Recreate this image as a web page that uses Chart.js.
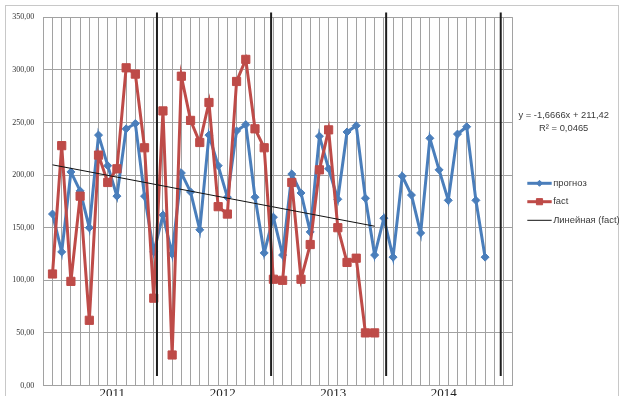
<!DOCTYPE html>
<html>
<head>
<meta charset="utf-8">
<script src="https://cdn.jsdelivr.net/npm/chart.js@4/dist/chart.umd.min.js"></script>
<style>
  html, body { margin: 0; padding: 0; background: #fff; overflow: hidden; }
  #wrap { width: 624px; height: 396px; position: relative; }
</style>
</head>
<body>
<div id="wrap"><canvas id="chart" width="624" height="396"></canvas></div>
<script>
// ---- data ----
const years = ['2011', '2012', '2013', '2014'];

// monthly forecast, Jan 2011 – Dec 2014
const forecast = [
  163, 127, 203, 185, 150, 238, 209, 180, 244, 249, 180, 127,
  162, 125, 202, 184, 148, 238, 209, 179, 242, 248, 179, 126,
  160, 124, 201, 183, 146, 237, 206, 177, 241, 247, 178, 124,
  159, 122, 199, 181, 145, 235, 205, 176, 239, 246, 176, 122
];

// monthly actuals, Jan 2011 – Dec 2013
const fact = [
  106, 228,  99, 180,  62, 219, 193, 206, 302, 296, 226,  83,
  261,  29, 294, 252, 231, 269, 170, 163, 289, 310, 244, 226,
  101, 100, 193, 101, 134, 205, 243, 150, 117, 121,  50,  50
];

// linear trend fitted to the actuals
const trendSlope = -1.6666;
const trendIntercept = 211.42;
const trendR2 = 0.0465;

const yTicks = [0, 50, 100, 150, 200, 250, 300, 350];

// year separators, in category units along the month axis
const yearDividers = [12.35, 24.75, 37.25, 49.7];
const dividerSpan = [9, 354.6];

// ---- category axis: one blank slot before, three after ----
const leadSlots = 1, tailSlots = 3;
const categories = [''];
years.forEach(y => { for (let m = 1; m <= 12; m++) categories.push(String(m).padStart(2, '0') + '.' + y); });
for (let i = 0; i < tailSlots; i++) categories.push('');

const pad = (arr) => {
  const out = new Array(categories.length).fill(null);
  arr.forEach((v, i) => { out[leadSlots + i] = v; });
  return out;
};

// year caption sits under the middle of each year
const yearLabelAt = {};
years.forEach((y, i) => { yearLabelAt[leadSlots + 7 + 12 * i] = y; });

// trend drawn between first and last actual month
const trendData = new Array(categories.length).fill(null);
trendData[leadSlots] = trendIntercept + trendSlope * 1;
trendData[leadSlots + fact.length - 1] = trendIntercept + trendSlope * fact.length;

const fmt = v => v.toFixed(2).replace('.', ',');

const BLUE = '#4A7EBB';
const RED = '#BE4B48';
const GRID = '#a2a2a2';

// ---- plugins ----
const frame = {
  id: 'frame',
  beforeDraw(chart) {
    const ctx = chart.ctx;
    ctx.save();
    ctx.fillStyle = '#fff';
    ctx.fillRect(0, 0, chart.width, chart.height);
    ctx.strokeStyle = '#c8c8c8';
    ctx.lineWidth = 1;
    ctx.strokeRect(5.5, 5.5, 613, 420);
    ctx.restore();
  }
};

const dividers = {
  id: 'dividers',
  afterDatasetsDraw(chart) {
    const { ctx, scales: { x, y } } = chart;
    ctx.save();
    ctx.strokeStyle = '#1e1e1e';
    ctx.lineWidth = 2;
    yearDividers.forEach(pos => {
      const px = x.getPixelForValue(pos);
      ctx.beginPath();
      ctx.moveTo(px, y.getPixelForValue(dividerSpan[1]));
      ctx.lineTo(px, y.getPixelForValue(dividerSpan[0]));
      ctx.stroke();
    });
    ctx.restore();
  }
};

const sideLegend = {
  id: 'sideLegend',
  afterDraw(chart) {
    const ctx = chart.ctx;
    const area = chart.chartArea;
    ctx.save();
    ctx.font = '9.4px "Liberation Sans", Arial, sans-serif';
    ctx.fillStyle = '#3a3a3a';
    ctx.textAlign = 'center';
    ctx.textBaseline = 'middle';
    const cx = area.right + 51;
    ctx.fillText('y = ' + String(trendSlope).replace('.', ',') + 'x + ' + String(trendIntercept).replace('.', ','), cx, 115);
    ctx.fillText('R² = ' + String(trendR2).replace('.', ','), cx, 128);

    const x0 = area.right + 14.6, x1 = area.right + 39;
    const rows = [183.3, 201.7, 220.3];
    ctx.textAlign = 'left';
    chart.data.datasets.forEach((ds, i) => {
      const yy = rows[i];
      ctx.strokeStyle = ds.borderColor;
      ctx.lineWidth = ds.borderWidth;
      ctx.beginPath();
      ctx.moveTo(x0, yy);
      ctx.lineTo(x1, yy);
      ctx.stroke();
      if (ds.pointRadius > 0) {
        ctx.fillStyle = ds.pointBackgroundColor;
        ctx.strokeStyle = ds.pointBorderColor;
        ctx.lineWidth = 1;
        Chart.helpers.drawPoint(ctx, {
          pointStyle: ds.pointStyle, radius: ds.pointRadius * 0.75, borderWidth: 1
        }, (x0 + x1) / 2, yy);
      }
      ctx.fillStyle = '#3a3a3a';
      ctx.fillText(ds.label, x1 + 1.5, yy);
    });
    ctx.restore();
  }
};

new Chart(document.getElementById('chart'), {
  type: 'line',
  data: {
    labels: categories,
    datasets: [
      {
        label: 'прогноз',
        data: pad(forecast),
        borderColor: BLUE,
        backgroundColor: BLUE,
        pointBackgroundColor: BLUE,
        pointBorderColor: BLUE,
        borderWidth: 3,
        pointStyle: 'rectRot',
        pointRadius: 4,
        pointBorderWidth: 1,
        tension: 0,
        order: 2
      },
      {
        label: 'fact',
        data: pad(fact),
        borderColor: RED,
        backgroundColor: RED,
        pointBackgroundColor: RED,
        pointBorderColor: RED,
        borderWidth: 3,
        pointStyle: 'rect',
        pointRadius: 5.8,
        pointBorderWidth: 1,
        tension: 0,
        order: 1
      },
      {
        label: 'Линейная (fact)',
        data: trendData,
        borderColor: '#111',
        backgroundColor: '#111',
        borderWidth: 1,
        pointRadius: 0,
        spanGaps: true,
        order: 0
      }
    ]
  },
  options: {
    responsive: false,
    animation: false,
    events: [],
    layout: { padding: { left: 5, top: 17.3, right: 111.3, bottom: 0 } },
    plugins: { legend: { display: false }, tooltip: { enabled: false } },
    scales: {
      x: {
        type: 'category',
        offset: false,
        afterFit(scale) { scale.height = 10.5; },
        grid: { color: GRID, lineWidth: 1, drawTicks: false },
        border: { display: true, color: GRID, width: 1 },
        ticks: {
          autoSkip: false,
          maxRotation: 0,
          minRotation: 0,
          padding: 0,
          labelOffset: -4.6,
          color: '#222',
          font: { family: '"Liberation Serif", "Times New Roman", serif', size: 13 },
          callback: (v, i) => yearLabelAt[i] || ''
        }
      },
      y: {
        min: yTicks[0],
        max: yTicks[yTicks.length - 1],
        afterFit(scale) { scale.width = 38.3; },
        afterBuildTicks(scale) { scale.ticks = yTicks.map(v => ({ value: v })); },
        grid: { color: GRID, lineWidth: 1, drawTicks: true, tickLength: 9, tickColor: 'rgba(0,0,0,0)' },
        border: { display: true, color: GRID, width: 1 },
        ticks: {
          padding: 0,
          color: '#333',
          font: { family: '"Liberation Serif", "Times New Roman", serif', size: 8 },
          callback: v => fmt(v)
        }
      }
    }
  },
  plugins: [frame, dividers, sideLegend]
});
</script>
</body>
</html>
